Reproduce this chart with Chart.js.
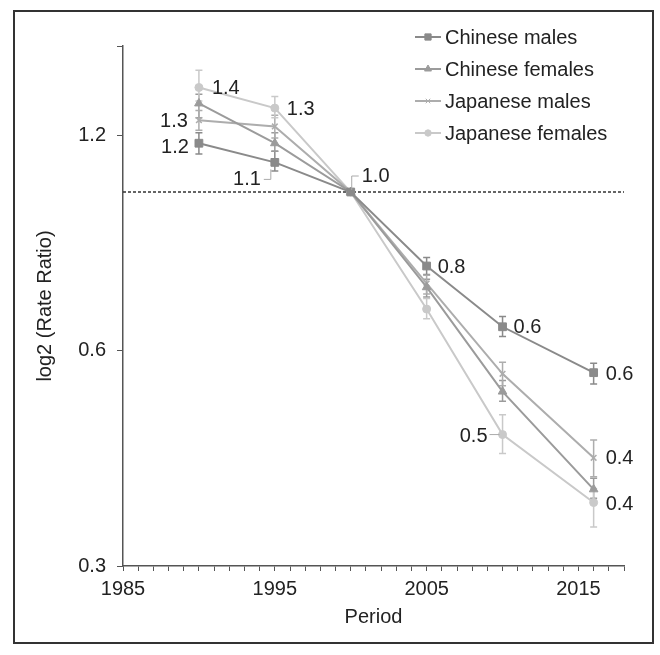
<!DOCTYPE html>
<html>
<head>
<meta charset="utf-8">
<script src="https://cdn.jsdelivr.net/npm/chart.js@4.4.1/dist/chart.umd.min.js"></script>
<style>
  html, body { margin: 0; padding: 0; background: #fff; }
  #wrap { width: 660px; height: 655px; }
</style>
</head>
<body>
<div id="wrap"><canvas id="chart" width="660" height="655"></canvas></div>
<script>
// values
const years = [1990, 1995, 2000, 2005, 2010, 2016];
const seriesNames = ['Chinese males', 'Chinese females', 'Japanese males', 'Japanese females'];

const chineseMales = [1.17, 1.10, 1.0, 0.788, 0.648, 0.559];
const chineseMalesLow = [1.13, 1.07, null, 0.767, 0.628, 0.539];
const chineseMalesHigh = [1.21, 1.14, null, 0.81, 0.670, 0.576];

const chineseFemales = [1.33, 1.17, 1.0, 0.736, 0.526, 0.384];
const chineseFemalesLow = [1.27, 1.14, null, 0.713, 0.51, 0.373];
const chineseFemalesHigh = [1.37, 1.21, null, 0.755, 0.545, 0.398];

const japaneseMales = [1.26, 1.235, 1.0, 0.745, 0.557, 0.425];
const japaneseMalesLow = [1.22, 1.19, null, 0.72, 0.536, 0.40];
const japaneseMalesHigh = [1.30, 1.28, null, 0.765, 0.578, 0.45];

const japaneseFemales = [1.40, 1.31, 1.0, 0.686, 0.458, 0.368];
const japaneseFemalesLow = [1.34, 1.27, null, 0.665, 0.431, 0.34];
const japaneseFemalesHigh = [1.48, 1.36, null, 0.71, 0.488, 0.385];

// value labels shown next to the points ('' = none)
const chineseMalesLabels = ['1.2', '1.1', '1.0', '0.8', '0.6', '0.6'];
const chineseFemalesLabels = ['', '', '', '', '', ''];
const japaneseMalesLabels = ['1.3', '', '', '', '', '0.4'];
const japaneseFemalesLabels = ['1.4', '1.3', '', '', '0.5', '0.4'];

const xTickLabels = [1985, 1995, 2005, 2015];
const yTickLabels = [0.3, 0.6, 1.2];
const referenceLine = 1.0;

const FONT = '"Liberation Sans", Arial, sans-serif';
const colors = ['#8a8a8a', '#9b9b9b', '#adadad', '#c9c9c9'];
const pointStyles = ['rect', 'triangle', 'crossRot', 'circle'];
const pointSizes = [5.5, 5, 4, 4];

const values = [chineseMales, chineseFemales, japaneseMales, japaneseFemales];
const lows = [chineseMalesLow, chineseFemalesLow, japaneseMalesLow, japaneseFemalesLow];
const highs = [chineseMalesHigh, chineseFemalesHigh, japaneseMalesHigh, japaneseFemalesHigh];
const labelTexts = [chineseMalesLabels, chineseFemalesLabels, japaneseMalesLabels, japaneseFemalesLabels];

// placement of the value labels: [dx, dy, align, leader]
const labelPlacement = {
  '0-0': [-10, 4, 'right'],
  '0-1': [-14, 17, 'right', 'elbowLeft'],
  '0-2': [11, -16, 'left', 'elbowRight'],
  '0-3': [11, 1, 'left'],
  '0-4': [11, 1, 'left'],
  '0-5': [12, 2, 'left'],
  '2-0': [-11, 1, 'right'],
  '2-5': [12, 1, 'left'],
  '3-0': [13, 1, 'left'],
  '3-1': [12, 1, 'left'],
  '3-4': [-15, 2, 'right', 'dash'],
  '3-5': [12, 2, 'left']
};

const datasets = seriesNames.map((name, i) => ({
  label: name,
  data: years.map((y, j) => ({ x: y, y: values[i][j] })),
  borderColor: colors[i],
  backgroundColor: colors[i],
  borderWidth: 2,
  pointStyle: pointStyles[i],
  pointRadius: pointSizes[i],
  pointBorderWidth: i === 2 ? 1.5 : 1,
  tension: 0
}));

const errorBars = {
  id: 'errorBars',
  beforeDatasetsDraw(chart) {
    const ctx = chart.ctx;
    const xs = chart.scales.x, ys = chart.scales.y;
    ctx.save();
    ctx.lineWidth = 1.5;
    values.forEach((vals, i) => {
      ctx.strokeStyle = colors[i];
      years.forEach((yr, j) => {
        if (lows[i][j] == null) return;
        const x = xs.getPixelForValue(yr);
        const y1 = ys.getPixelForValue(lows[i][j]);
        const y2 = ys.getPixelForValue(highs[i][j]);
        ctx.beginPath();
        ctx.moveTo(x, y1); ctx.lineTo(x, y2);
        ctx.moveTo(x - 3.5, y1); ctx.lineTo(x + 3.5, y1);
        ctx.moveTo(x - 3.5, y2); ctx.lineTo(x + 3.5, y2);
        ctx.stroke();
      });
    });
    ctx.restore();
  }
};

const refLine = {
  id: 'refLine',
  beforeDatasetsDraw(chart) {
    const ctx = chart.ctx, a = chart.chartArea;
    const y = chart.scales.y.getPixelForValue(referenceLine);
    ctx.save();
    ctx.strokeStyle = '#333';
    ctx.lineWidth = 1.5;
    ctx.setLineDash([3, 2]);
    ctx.beginPath();
    ctx.moveTo(a.left, y); ctx.lineTo(a.right, y);
    ctx.stroke();
    ctx.restore();
  }
};

const extras = {
  id: 'extras',
  afterDraw(chart) {
    const ctx = chart.ctx;
    const xs = chart.scales.x, ys = chart.scales.y;
    ctx.save();
    ctx.font = '20px ' + FONT;
    ctx.fillStyle = '#222';
    ctx.textBaseline = 'middle';

    // value labels
    labelTexts.forEach((texts, i) => {
      texts.forEach((t, j) => {
        if (!t) return;
        const p = labelPlacement[i + '-' + j];
        const px = xs.getPixelForValue(years[j]);
        const py = ys.getPixelForValue(values[i][j]);
        const tx = px + p[0], ty = py + p[1];
        ctx.textAlign = p[2];
        ctx.fillText(t, tx, ty);
        if (p[3]) {
          ctx.strokeStyle = '#aaa';
          ctx.lineWidth = 1;
          ctx.beginPath();
          if (p[3] === 'elbowLeft') {
            ctx.moveTo(px - 4, py + 7); ctx.lineTo(px - 4, ty); ctx.lineTo(tx + 3, ty);
          } else if (p[3] === 'elbowRight') {
            ctx.moveTo(px + 1, py - 2); ctx.lineTo(px + 1, ty); ctx.lineTo(tx - 3, ty);
          } else {
            ctx.moveTo(tx + 2, py); ctx.lineTo(px - 3, py);
          }
          ctx.stroke();
        }
      });
    });

    // legend
    ctx.textAlign = 'left';
    chart.data.datasets.forEach((ds, i) => {
      const ly = 37 + i * 32;
      ctx.strokeStyle = ds.borderColor;
      ctx.lineWidth = 2;
      ctx.beginPath();
      ctx.moveTo(415, ly); ctx.lineTo(441, ly);
      ctx.stroke();
      ctx.fillStyle = ds.backgroundColor;
      ctx.strokeStyle = ds.borderColor;
      ctx.lineWidth = 1;
      Chart.helpers.drawPoint(ctx, { pointStyle: ds.pointStyle, radius: ds.pointRadius * 0.8, borderWidth: 1, rotation: 0 }, 428, ly);
      ctx.fillStyle = '#222';
      ctx.fillText(ds.label, 445, ly + 1);
    });

    // outer frame
    ctx.strokeStyle = '#333';
    ctx.lineWidth = 2;
    ctx.strokeRect(14, 11, 639, 632);
    ctx.restore();
  }
};

new Chart(document.getElementById('chart').getContext('2d'), {
  type: 'line',
  data: { datasets },
  options: {
    responsive: false,
    animation: false,
    layout: { padding: { top: 46, right: 36, left: 0, bottom: 0 } },
    plugins: {
      legend: { display: false },
      tooltip: { enabled: false }
    },
    scales: {
      x: {
        type: 'linear',
        min: 1985,
        max: 2018,
        afterBuildTicks(scale) {
          const t = [];
          for (let v = 1985; v <= 2018; v++) t.push({ value: v });
          scale.ticks = t;
        },
        afterFit(scale) { scale.height = 89; },
        ticks: {
          autoSkip: false,
          maxRotation: 0,
          padding: 6,
          color: '#222',
          font: { family: FONT, size: 20 },
          callback: v => xTickLabels.includes(v) ? String(v) : ''
        },
        grid: { drawOnChartArea: false, drawTicks: true, tickLength: 5, tickColor: '#555', lineWidth: 1 },
        border: { display: true, color: '#555', width: 1.5 },
        title: {
          display: true,
          text: 'Period',
          color: '#222',
          font: { family: FONT, size: 20 },
          padding: { top: 2, bottom: 26 }
        }
      },
      y: {
        type: 'logarithmic',
        min: 0.3,
        max: 1.6,
        afterBuildTicks(scale) {
          scale.ticks = yTickLabels.concat([1.6]).map(v => ({ value: v }));
        },
        afterFit(scale) { scale.width = 123; },
        ticks: {
          padding: 11,
          color: '#222',
          font: { family: FONT, size: 20 },
          callback: v => yTickLabels.includes(v) ? v.toFixed(1) : ''
        },
        grid: { drawOnChartArea: false, drawTicks: true, tickLength: 6, tickColor: '#555', lineWidth: 1 },
        border: { display: true, color: '#555', width: 1.5 },
        title: {
          display: true,
          text: 'log2 (Rate Ratio)',
          color: '#222',
          font: { family: FONT, size: 20 },
          padding: { top: 33, bottom: 0 }
        }
      }
    }
  },
  plugins: [refLine, errorBars, extras]
});
</script>
</body>
</html>
